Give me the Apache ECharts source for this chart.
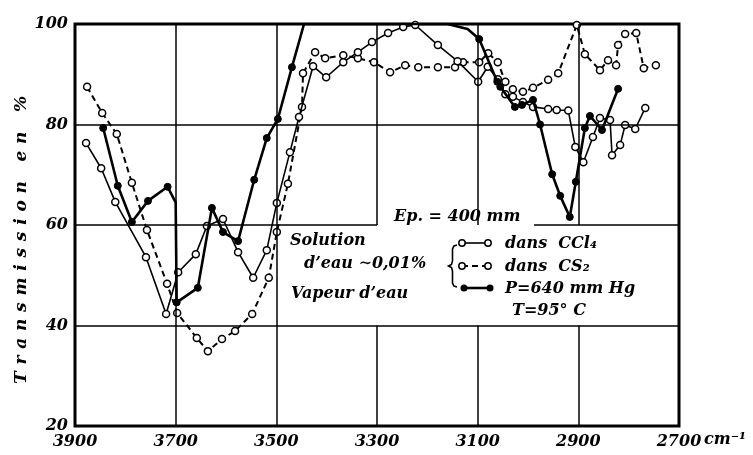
<!DOCTYPE html>
<html><head><meta charset="utf-8">
<script src="https://cdn.jsdelivr.net/npm/echarts@6/dist/echarts.min.js"></script>
<style>html,body{margin:0;padding:0;background:#fff}#c{width:753px;height:455px}</style>
</head><body><div id="c"></div>
<script>
// ---- tick labels ----
const xTicks = [3900, 3700, 3500, 3300, 3100, 2900, 2700];
const yTicks = [20, 40, 60, 80, 100];

// ---- Solution dans CCl4 (solid line, open circles) ----
const ccl4Wn = [3878,3848,3820,3759,3719,3695,3660,3638,3606,3576,3546,3519,3499,3473,3455,3427,3401,3367,3338,3310,3278,3248,3224,3179,3140,3099,3080,3060,3045,3030,3010,2990,2960,2943,2920,2906,2890,2871,2857,2837,2833,2817,2807,2787,2767];
const ccl4T  = [76.3,71.3,64.6,53.6,42.3,50.6,54.2,59.8,61.2,54.6,49.5,55.0,64.4,74.5,81.5,91.6,89.4,92.4,94.4,96.4,98.2,99.4,99.8,95.8,92.6,88.5,91.5,89.0,86.0,85.5,84.5,83.5,83.1,82.9,82.8,75.5,72.5,77.5,81.3,80.9,73.9,75.9,79.9,79.1,83.3];

// ---- Solution dans CS2 (dashed line, open circles) ----
const cs2Wn = [3876,3846,3817,3787,3757,3717,3697,3658,3636,3608,3582,3548,3515,3499,3477,3449,3447,3423,3403,3367,3338,3306,3274,3244,3218,3179,3145,3129,3097,3079,3060,3045,3030,3010,2990,2960,2940,2903,2887,2857,2841,2825,2821,2807,2785,2770,2746];
const cs2T  = [87.5,82.3,78.1,68.4,59.0,48.3,42.5,37.5,34.9,37.3,38.9,42.3,49.5,58.6,68.2,83.5,90.2,94.4,93.2,93.8,93.2,92.4,90.4,91.8,91.4,91.4,91.4,92.4,92.4,94.2,92.4,88.5,87.0,86.5,87.3,88.9,90.2,99.8,94.0,90.8,92.8,91.8,95.8,98.0,98.2,91.2,91.8];

// ---- Vapeur d'eau, P=640 mm Hg, T=95 C (solid line, filled circles) ----
const vapWn = [3844,3815,3787,3755,3716,3700,3698,3656,3628,3606,3576,3544,3519,3497,3469,3445,3160,3120,3097,3061,3055,3026,3012,2990,2976,2952,2936,2917,2905,2887,2877,2853,2821];
const vapT  = [79.3,67.8,60.6,64.8,67.6,64.5,44.6,47.5,63.4,58.6,56.8,69.0,77.3,81.1,91.4,100,100,99.0,97.0,88.5,87.5,83.5,83.9,84.9,80.0,70.1,65.8,61.6,68.6,79.3,81.7,78.9,87.1];
// points of the vapour curve that are drawn without a marker
const vapNoMark = [3700, 3445, 3160, 3120];

// ---- grid segments (axis values) ----
const gridV = [[3700,20,100],[3500,20,100],[3300,20,40],[3300,60,100],[3100,20,40],[3100,60,100],[2900,20,40],[2900,60,100]];
const gridH = [[80,3900,2700],[40,3900,2700],[60,3900,3300],[60,2988,2700]];

const FONT = 'DejaVu Serif';
const txt = {fontFamily: FONT, fontStyle: 'italic', fontWeight: 'bold', fontSize: 16, color: '#000'};

const zip = (a, b) => a.map((v, i) => [v, b[i]]);

const gridLines = [];
gridV.forEach(g => gridLines.push([{coord: [g[0], g[1]]}, {coord: [g[0], g[2]]}]));
gridH.forEach(g => gridLines.push([{coord: [g[1], g[0]]}, {coord: [g[2], g[0]]}]));

const chart = echarts.init(document.getElementById('c'), null, {renderer: 'canvas'});

function gtext(x, y, s, extra) {
  return Object.assign({type: 'text', x: x, y: y, z: 100,
    style: Object.assign({text: s, font: 'italic bold 16px "' + FONT + '"', fill: '#000', textVerticalAlign: 'middle'}, extra || {})});
}

// letter-spaced axis title
const yTitle = 'Transmission en %'.split('').join('\u2009\u2009');

chart.setOption({
  backgroundColor: '#fff',
  animation: false,
  grid: {left: 75, right: 74, top: 24, bottom: 29, show: true, borderColor: '#000', borderWidth: 3, backgroundColor: 'transparent'},
  xAxis: {
    type: 'value', inverse: true, min: 2700, max: 3900, interval: 100,
    axisLine: {show: false}, axisTick: {show: false}, splitLine: {show: false},
    axisLabel: Object.assign({margin: 8, formatter: v => xTicks.indexOf(v) >= 0 ? String(v) : ''}, txt)
  },
  yAxis: {
    type: 'value', min: 20, max: 100, interval: 20,
    axisLine: {show: false}, axisTick: {show: false}, splitLine: {show: false},
    axisLabel: Object.assign({margin: 7, formatter: v => yTicks.indexOf(v) >= 0 ? String(v) : ''}, txt)
  },
  series: [
    {
      type: 'line', data: [], z: 1, silent: true,
      markLine: {silent: true, symbol: ['none', 'none'], label: {show: false},
        lineStyle: {color: '#000', width: 1.5, type: 'solid'}, data: gridLines}
    },
    {
      name: 'CS2', type: 'line', z: 3, data: zip(cs2Wn, cs2T),
      lineStyle: {color: '#000', width: 2, type: [6, 4]},
      symbol: 'circle', symbolSize: 7,
      itemStyle: {color: '#fff', borderColor: '#000', borderWidth: 1.5}
    },
    {
      name: 'CCl4', type: 'line', z: 4, data: zip(ccl4Wn, ccl4T),
      lineStyle: {color: '#000', width: 1.6},
      symbol: 'circle', symbolSize: 7,
      itemStyle: {color: '#fff', borderColor: '#000', borderWidth: 1.5}
    },
    {
      name: 'Vapeur', type: 'line', z: 5,
      data: zip(vapWn, vapT).map(p => vapNoMark.indexOf(p[0]) >= 0 ? {value: p, symbol: 'none'} : p),
      lineStyle: {color: '#000', width: 2.6},
      symbol: 'circle', symbolSize: 7,
      itemStyle: {color: '#000', borderColor: '#000', borderWidth: 1}
    }
  ],
  graphic: [
    // y axis title
    {type: 'text', x: 22, y: 240, rotation: Math.PI / 2, z: 100,
      style: {text: yTitle, font: 'italic bold 17px "' + FONT + '"', fill: '#000', textAlign: 'center', textVerticalAlign: 'middle'}},
    // unit
    gtext(704, 440, 'cm⁻¹'),
    // thickness note
    gtext(394, 217, 'Ep. = 400 mm'),
    // legend
    gtext(290, 241, 'Solution'),
    gtext(304, 264, 'd\u2019eau \u223C0,01%'),
    gtext(291, 294, 'Vapeur d\u2019eau'),
    {type: 'polyline', z: 100,
      shape: {points: [[457,245],[454,246],[452.5,249],[452.5,261],[451.5,264.5],[448.5,266],[451.5,267.5],[452.5,271],[452.5,283],[454,286],[457,287]]},
      style: {fill: null, stroke: '#000', lineWidth: 1.6}},
    // CCl4 sample
    {type: 'line', z: 100, shape: {x1: 462, y1: 243, x2: 488, y2: 243}, style: {stroke: '#000', lineWidth: 1.6}},
    {type: 'circle', z: 101, shape: {cx: 462, cy: 243, r: 3.2}, style: {fill: '#fff', stroke: '#000', lineWidth: 1.5}},
    {type: 'circle', z: 101, shape: {cx: 488, cy: 243, r: 3.2}, style: {fill: '#fff', stroke: '#000', lineWidth: 1.5}},
    gtext(505, 244, 'dans  CCl\u2084'),
    // CS2 sample
    {type: 'line', z: 100, shape: {x1: 462, y1: 266, x2: 488, y2: 266}, style: {stroke: '#000', lineWidth: 1.8, lineDash: [6, 4]}},
    {type: 'circle', z: 101, shape: {cx: 462, cy: 266, r: 3.2}, style: {fill: '#fff', stroke: '#000', lineWidth: 1.5}},
    {type: 'circle', z: 101, shape: {cx: 488, cy: 266, r: 3.2}, style: {fill: '#fff', stroke: '#000', lineWidth: 1.5}},
    gtext(505, 267, 'dans  CS\u2082'),
    // vapour sample
    {type: 'line', z: 100, shape: {x1: 464, y1: 288, x2: 490, y2: 288}, style: {stroke: '#000', lineWidth: 2.6}},
    {type: 'circle', z: 101, shape: {cx: 464, cy: 288, r: 3.5}, style: {fill: '#000'}},
    {type: 'circle', z: 101, shape: {cx: 490, cy: 288, r: 3.5}, style: {fill: '#000'}},
    gtext(505, 289, 'P=640 mm Hg'),
    gtext(512, 311, 'T=95\u00B0 C')
  ]
});
</script></body></html>
